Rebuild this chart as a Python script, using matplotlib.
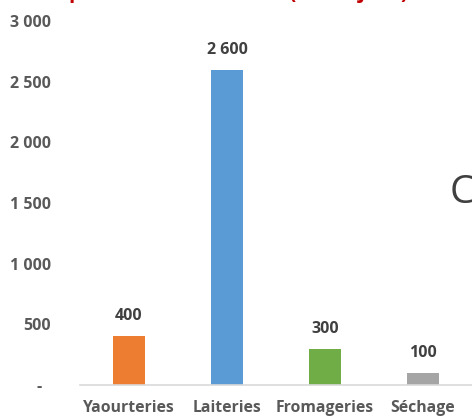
import matplotlib.pyplot as plt

plt.rcParams['font.family'] = ['Open Sans', 'DejaVu Sans']

# Data
categories = ['Yaourteries', 'Laiteries', 'Fromageries', 'Séchage']
values = [400, 2600, 300, 100]
colors = ['#ED7D31', '#5B9BD5', '#70AD47', '#A5A5A5']
y_ticks = [0, 500, 1000, 1500, 2000, 2500, 3000]
title = 'Capacité de traitement (litres/jour)'

def fmt(v):
    # Excel-style thousands with a space, zero shown as a dash
    if v == 0:
        return '-\u2007'
    return f"{v:,.0f}".replace(",", " ")

fig = plt.figure(figsize=(4.72, 4.16), dpi=100)
ax = fig.add_axes([80 / 472, 31 / 416, 392 / 472, 364 / 416])

x = list(range(len(categories)))
bars = ax.bar(x, values, color=colors, width=0.32, zorder=2)

ax.set_xlim(-0.5, 3.5)
ax.set_ylim(0, 3000)
ax.set_xticks(x)
ax.set_xticklabels(categories, fontsize=11.3, fontweight='bold', color='#595959')
ax.set_yticks(y_ticks)
ax.set_yticklabels([fmt(v) for v in y_ticks], fontsize=11.5, fontweight='bold', color='#595959')
ax.tick_params(axis='both', length=0)
ax.tick_params(axis='x', pad=10.5)
ax.tick_params(axis='y', pad=21)

for s in ['top', 'right', 'left']:
    ax.spines[s].set_visible(False)
ax.spines['bottom'].set_color('#D9D9D9')
ax.spines['bottom'].set_linewidth(1.2)

for bar, v in zip(bars, values):
    ax.annotate(fmt(v), (bar.get_x() + bar.get_width() / 2, v),
                xytext=(0, 11.5), textcoords='offset points',
                ha='center', va='baseline', fontsize=11.5, fontweight='bold', color='#404040')

# Title sits mostly above the visible area (cropped in the original)
fig.text(408 / 472, 1 + 2 / 416, title, ha='right', va='baseline',
         fontsize=15, fontweight='bold', color='#C00000')

# Fragment of a neighbouring element at the right edge
fig.text(450 / 472, 1 - 203 / 416, 'C', ha='left', va='baseline',
         fontsize=28, color='#404040')

fig.savefig('out.png', dpi=100)
